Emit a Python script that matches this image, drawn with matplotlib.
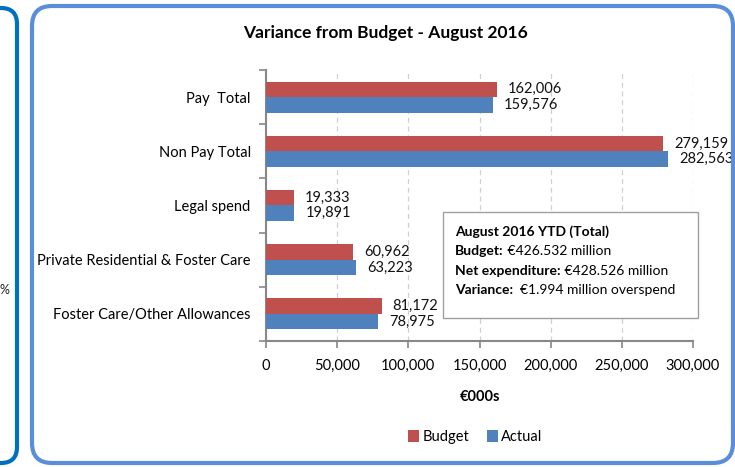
import numpy as np
import matplotlib.pyplot as plt
from matplotlib.patches import FancyBboxPatch, Rectangle

categories = ["Pay  Total", "Non Pay Total", "Legal spend",
              "Private Residential & Foster Care", "Foster Care/Other Allowances"]
budget = [162006, 279159, 19333, 60962, 81172]
actual = [159576, 282563, 19891, 63223, 78975]
x_ticks = [0, 50000, 100000, 150000, 200000, 250000, 300000]

info_bold = ["August 2016 YTD (Total)", "Budget:", "Net expenditure:", "Variance:"]
info_rest = ["", " €426.532 million", " €428.526 million", "  €1.994 million overspend"]

BUDGET_C = "#C0504D"
ACTUAL_C = "#4F81BD"

plt.rcParams["font.family"] = ["Lato", "DejaVu Sans"]

W, H = 735, 467
fig = plt.figure(figsize=(W / 100, H / 100), dpi=100)


def px_box(x0, y0, x1, y1, color, lw, rad):
    # rounded frame given in pixel coordinates (top-left origin)
    p = FancyBboxPatch((x0 / W, 1 - y1 / H), (x1 - x0) / W, (y1 - y0) / H,
                       boxstyle=f"round,pad=0,rounding_size={rad / W}",
                       transform=fig.transFigure, fill=False,
                       edgecolor=color, linewidth=lw, clip_on=False,
                       mutation_aspect=W / H)
    fig.add_artist(p)


px_box(-40, 8, 17, 463, "#0070C0", 3.0, 16)
px_box(32, 6, 733, 463, "#5A8ED8", 3.0, 20)
fig.text(0 / W, 1 - 290 / H, "%", fontsize=9, ha="left", va="center", color="#222222")

ax = fig.add_axes([266 / W, 1 - 341 / H, 427 / W, 271 / H])

y = np.arange(len(categories))
h = 0.285
ax.barh(y - h / 2, budget, height=h, color=BUDGET_C, label="Budget", zorder=3)
ax.barh(y + h / 2, actual, height=h, color=ACTUAL_C, label="Actual", zorder=3)

for i in range(len(categories)):
    ax.annotate(f"{budget[i]:,}", (budget[i], y[i] - h / 2), xytext=(8, 0),
                textcoords="offset points", va="center", ha="left", fontsize=10.5,
                color="#111111")
    ax.annotate(f"{actual[i]:,}", (actual[i], y[i] + h / 2), xytext=(8, 0),
                textcoords="offset points", va="center", ha="left", fontsize=10.5,
                color="#111111")

ax.set_ylim(len(categories) - 0.5, -0.5)
ax.set_xlim(0, 300000)
ax.set_yticks(y)
ax.set_yticklabels(categories, fontsize=10.5)
ax.set_yticks(np.arange(len(categories) + 1) - 0.5, minor=True)
ax.tick_params(axis="y", which="major", length=0, pad=11)
ax.tick_params(axis="y", which="minor", length=5, color="#888888", width=1.2)
ax.set_xticks(x_ticks)
ax.set_xticklabels([f"{v:,}" for v in x_ticks], fontsize=10.5)
ax.tick_params(axis="x", length=5, color="#888888", width=1.2, pad=8)

ax.grid(axis="x", linestyle=(0, (4, 3)), color="#D0D0D0", linewidth=0.9, zorder=0)
for s in ["top", "right"]:
    ax.spines[s].set_visible(False)
for s in ["left", "bottom"]:
    ax.spines[s].set_color("#888888")
    ax.spines[s].set_linewidth(1.5)

ax.set_xlabel("€000s", fontsize=10.5, fontweight="bold", labelpad=12)

fig.text(385 / W, 1 - 33 / H, "Variance from Budget - August 2016", fontsize=12.5,
         fontweight="bold", ha="center", va="center")

# info box
fig.add_artist(Rectangle((443 / W, 1 - 318 / H), 255 / W, 106 / H,
                         transform=fig.transFigure, facecolor="white",
                         edgecolor="#A0A0A0", linewidth=1.0, zorder=5))
renderer = fig.canvas.get_renderer()
for k, (b, r) in enumerate(zip(info_bold, info_rest)):
    yy = 1 - (232 + 19.3 * k) / H
    tb = fig.text(455 / W, yy, b, fontsize=10, fontweight="bold", ha="left",
                  va="center", zorder=6)
    if r:
        ext = tb.get_window_extent(renderer)
        fig.text(ext.x1 / W, yy, r, fontsize=10, ha="left", va="center", zorder=6)

fig.legend(loc="center", bbox_to_anchor=(475 / W, 1 - 437 / H), ncol=2, frameon=False,
           fontsize=10.5, handlelength=0.8, handleheight=0.8, handletextpad=0.2,
           columnspacing=1.2)

fig.savefig("out.png", dpi=100)
